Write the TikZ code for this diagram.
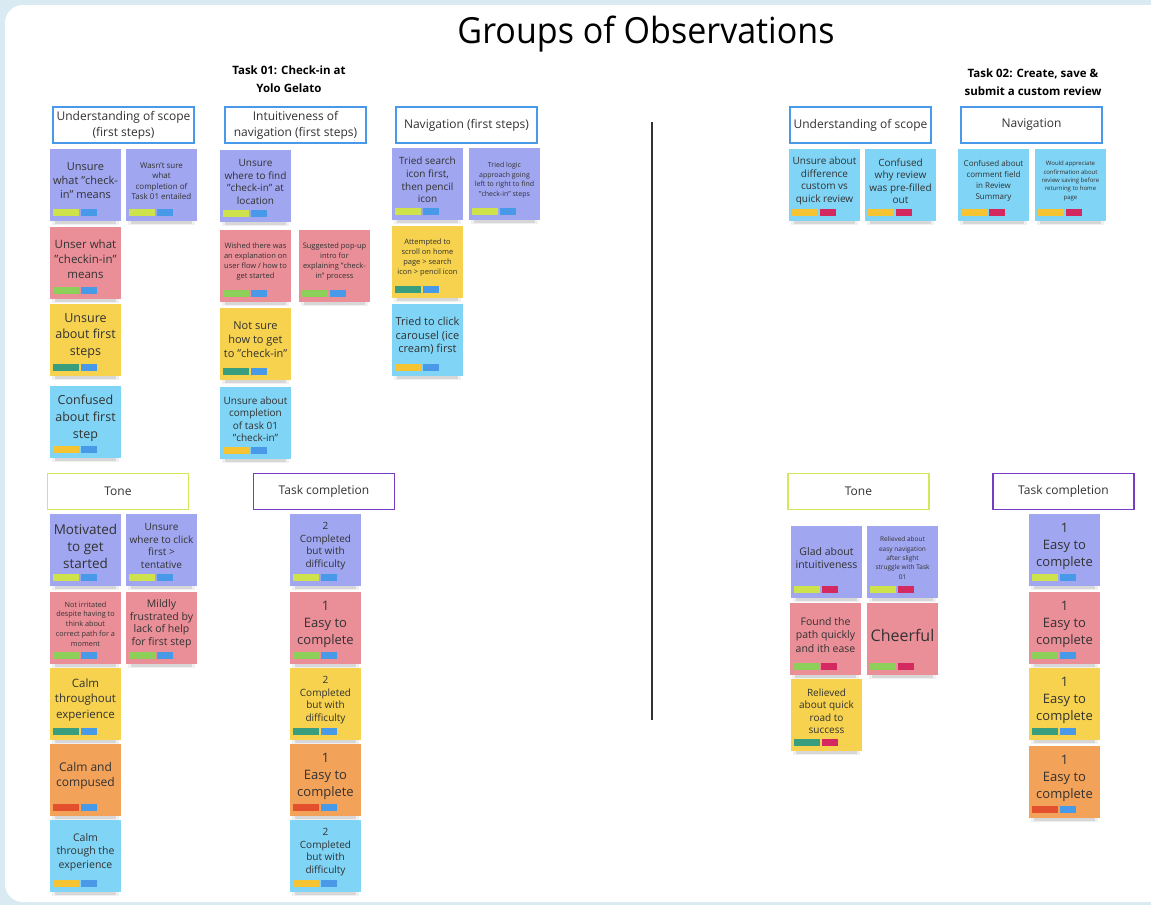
\documentclass[tikz,border=0pt]{standalone}
\usepackage{fontspec}
\setmainfont{Open Sans}
\definecolor{bgc}{RGB}{217,234,243}
\definecolor{txt}{RGB}{50,50,50}
\definecolor{purN}{RGB}{160,166,240}
\definecolor{pinN}{RGB}{234,143,152}
\definecolor{yelN}{RGB}{246,210,78}
\definecolor{cyaN}{RGB}{128,212,245}
\definecolor{oraN}{RGB}{243,162,90}
\definecolor{tYG}{RGB}{206,226,76}
\definecolor{tBlue}{RGB}{72,153,232}
\definecolor{tGreen}{RGB}{140,208,90}
\definecolor{tTeal}{RGB}{56,158,125}
\definecolor{tYellow}{RGB}{246,196,50}
\definecolor{tRed}{RGB}{226,80,46}
\definecolor{tMag}{RGB}{212,40,96}
\definecolor{hBlue}{RGB}{74,152,232}
\definecolor{hYG}{RGB}{212,232,92}
\definecolor{hPur}{RGB}{120,60,196}
\tikzset{
  notebox/.style={minimum width=71pt, minimum height=72pt, inner sep=0pt, outer sep=0pt},
  notetext/.style={align=center, text=txt, inner sep=0pt},
  hdr/.style={draw=#1, line width=1.6pt, fill=white, minimum width=141pt, minimum height=36pt,
    align=center, text=txt, inner sep=0pt, font=\fontsize{12}{16}\selectfont},
  tasktitle/.style={align=center, text=black, font=\bfseries\fontsize{11.5}{17.5}\selectfont},
}
\newcommand\stick[9]{%
  \fill[black, opacity=0.06] (#2+2, #3+70) rectangle (#2+69, #3+76);
  \fill[black, opacity=0.10] (#2+5, #3+71) rectangle (#2+66, #3+74.5);
  \node[notebox, fill=#4, anchor=north west] (#1) at (#2,#3) {};
  \node[notetext, font=\fontsize{#7}{#8}\selectfont] (#1t) at ([yshift=4pt]#1.center) {#9};
  \fill[#5] ([xshift=3pt,yshift=5pt]#1.south west) rectangle ++(26pt,7pt);
  \fill[#6] ([xshift=31pt,yshift=5pt]#1.south west) rectangle ++(16pt,7pt);
}
\begin{document}
\begin{tikzpicture}[x=1pt, y=-1pt]
\useasboundingbox (0,0) rectangle (1151,905);
\fill[bgc] (0,0) rectangle (1151,905);
\begin{scope}
\clip (0,0) rectangle (1151,905);
\fill[white, rounded corners=18pt] (5,5) rectangle (1170,902);
\end{scope}

% title
\node[text=black, font=\fontsize{36}{42}\selectfont] (title) at (646,34) {\scalebox{0.945}[1]{Groups of Observations}};
\node[tasktitle] (task1) at (289,79) {Task 01: Check-in at\\Yolo Gelato};
\node[tasktitle] (task2) at (1033,82) {Task 02: Create, save \&\\submit a custom review};

% divider
\coordinate (divtop) at (652,122);
\coordinate (divbot) at (652,720);
\draw[line width=1.3pt, black!80] (divtop) -- (divbot);

% headers
\node[hdr=hBlue] (h1) at (123.5,125) {Understanding of scope\\(first steps)};
\node[hdr=hBlue] (h2) at (295.5,125) {Intuitiveness of\\navigation (first steps)};
\node[hdr=hBlue] (h3) at (466.5,125) {Navigation (first steps)};
\node[hdr=hBlue] (h4) at (860.5,125) {Understanding of scope};
\node[hdr=hBlue] (h5) at (1031.5,125) {Navigation};
\node[hdr=hYG] (h6) at (118,491.5) {Tone};
\node[hdr=hPur] (h7) at (324,491.5) {Task completion};
\node[hdr=hYG] (h8) at (858.5,491.5) {Tone};
\node[hdr=hPur] (h9) at (1063.5,491.5) {Task completion};

% left: understanding of scope
\stick{s1}{50}{149}{purN}{tYG}{tBlue}{11}{14}{Unsure\\what "check-\\in" means}
\stick{s2}{126}{149}{purN}{tYG}{tBlue}{8}{10.5}{Wasn't sure\\what\\completion of\\Task 01 entailed}
\stick{s3}{50}{227}{pinN}{tGreen}{tBlue}{11.5}{15}{Unser what\\"checkin-in"\\means}
\stick{s4}{50}{304}{yelN}{tTeal}{tBlue}{12.5}{16.5}{Unsure\\about first\\steps}
\stick{s5}{50}{386}{cyaN}{tYellow}{tBlue}{12.5}{17}{Confused\\about first\\step}

% left: intuitiveness
\stick{i1}{220}{150}{purN}{tYG}{tBlue}{10}{12.5}{Unsure\\where to find\\"check-in" at\\location}
\stick{i2}{220}{230}{pinN}{tGreen}{tBlue}{7.5}{10}{Wished there was\\an explanation on\\user flow / how to\\get started}
\stick{i3}{299}{230}{pinN}{tGreen}{tBlue}{7.5}{10}{Suggested pop-up\\intro for\\explaining "check-\\in" process}
\stick{i4}{220}{308}{yelN}{tTeal}{tBlue}{11}{14}{Not sure\\how to get\\to "check-in"}
\stick{i5}{220}{387}{cyaN}{tYellow}{tBlue}{10}{12.5}{Unsure about\\completion\\of task 01\\"check-in"}

% left: navigation
\stick{n1}{392}{148}{purN}{tYG}{tBlue}{10}{12.7}{Tried search\\icon first,\\then pencil\\icon}
\stick{n2}{469}{148}{purN}{tYG}{tBlue}{7}{9.5}{Tried logic\\approach going\\left to right to find\\"check-in" steps}
\stick{n3}{392}{226}{yelN}{tTeal}{tBlue}{7.5}{10}{Attempted to\\scroll on home\\page > search\\icon > pencil icon}
\stick{n4}{392}{304}{cyaN}{tYellow}{tBlue}{11}{13.5}{Tried to click\\carousel (ice\\cream) first}

% left: tone
\stick{t1}{50}{514}{purN}{tYG}{tBlue}{13.5}{17}{Motivated\\to get\\started}
\stick{t2}{126}{514}{purN}{tYG}{tBlue}{10}{12.5}{Unsure\\where to click\\first >\\tentative}
\stick{t3}{50}{592}{pinN}{tGreen}{tBlue}{7.3}{9.8}{Not irritated\\despite having to\\think about\\correct path for a\\moment}
\stick{t4}{126}{592}{pinN}{tGreen}{tBlue}{10.5}{12.5}{Mildly\\frustrated by\\lack of help\\for first step}
\stick{t5}{50}{668}{yelN}{tTeal}{tBlue}{11.5}{15.5}{Calm\\throughout\\experience}
\stick{t6}{50}{744}{oraN}{tRed}{tBlue}{12}{15}{Calm and\\compused}
\stick{t7}{50}{820}{cyaN}{tYellow}{tBlue}{10.5}{13.5}{Calm\\through the\\experience}

% left: task completion
\stick{c1}{290}{514}{purN}{tYG}{tBlue}{10}{12.8}{2\\Completed\\but with\\difficulty}
\stick{c2}{290}{592}{pinN}{tGreen}{tBlue}{13}{17}{1\\Easy to\\complete}
\stick{c3}{290}{668}{yelN}{tTeal}{tBlue}{10}{12.8}{2\\Completed\\but with\\difficulty}
\stick{c4}{290}{744}{oraN}{tRed}{tBlue}{13}{17}{1\\Easy to\\complete}
\stick{c5}{290}{820}{cyaN}{tYellow}{tBlue}{10}{12.8}{2\\Completed\\but with\\difficulty}

% right: scope & navigation
\stick{r1}{789}{149}{cyaN}{tYellow}{tMag}{10}{12.5}{Unsure about\\difference\\custom vs\\quick review}
\stick{r2}{865}{149}{cyaN}{tYellow}{tMag}{10}{12.5}{Confused\\why review\\was pre-filled\\out}
\stick{r3}{958}{149}{cyaN}{tYellow}{tMag}{8}{11}{Confused about\\comment field\\in Review\\Summary}
\stick{r4}{1035}{149}{cyaN}{tYellow}{tMag}{6}{8.3}{Would appreciate\\confirmation about\\review saving before\\returning to home\\page}

% right: tone
\stick{u1}{791}{526}{purN}{tYG}{tMag}{10.5}{13}{Glad about\\intuitiveness}
\stick{u2}{867}{526}{purN}{tYG}{tMag}{6.5}{9.3}{Relieved about\\easy navigation\\after slight\\struggle with Task\\01}
\stick{u3}{790}{603}{pinN}{tGreen}{tMag}{10.5}{13.5}{Found the\\path quickly\\and ith ease}
\stick{u4}{867}{603}{pinN}{tGreen}{tMag}{16}{19}{Cheerful}
\stick{u5}{791}{679}{yelN}{tTeal}{tMag}{10}{12.5}{Relieved\\about quick\\road to\\success}

% right: task completion
\stick{v1}{1029}{514}{purN}{tYG}{tBlue}{13}{17}{1\\Easy to\\complete}
\stick{v2}{1029}{592}{pinN}{tGreen}{tBlue}{13}{17}{1\\Easy to\\complete}
\stick{v3}{1029}{668}{yelN}{tTeal}{tBlue}{13}{17}{1\\Easy to\\complete}
\stick{v4}{1029}{746}{oraN}{tRed}{tBlue}{13}{17}{1\\Easy to\\complete}
\end{tikzpicture}
\end{document}
